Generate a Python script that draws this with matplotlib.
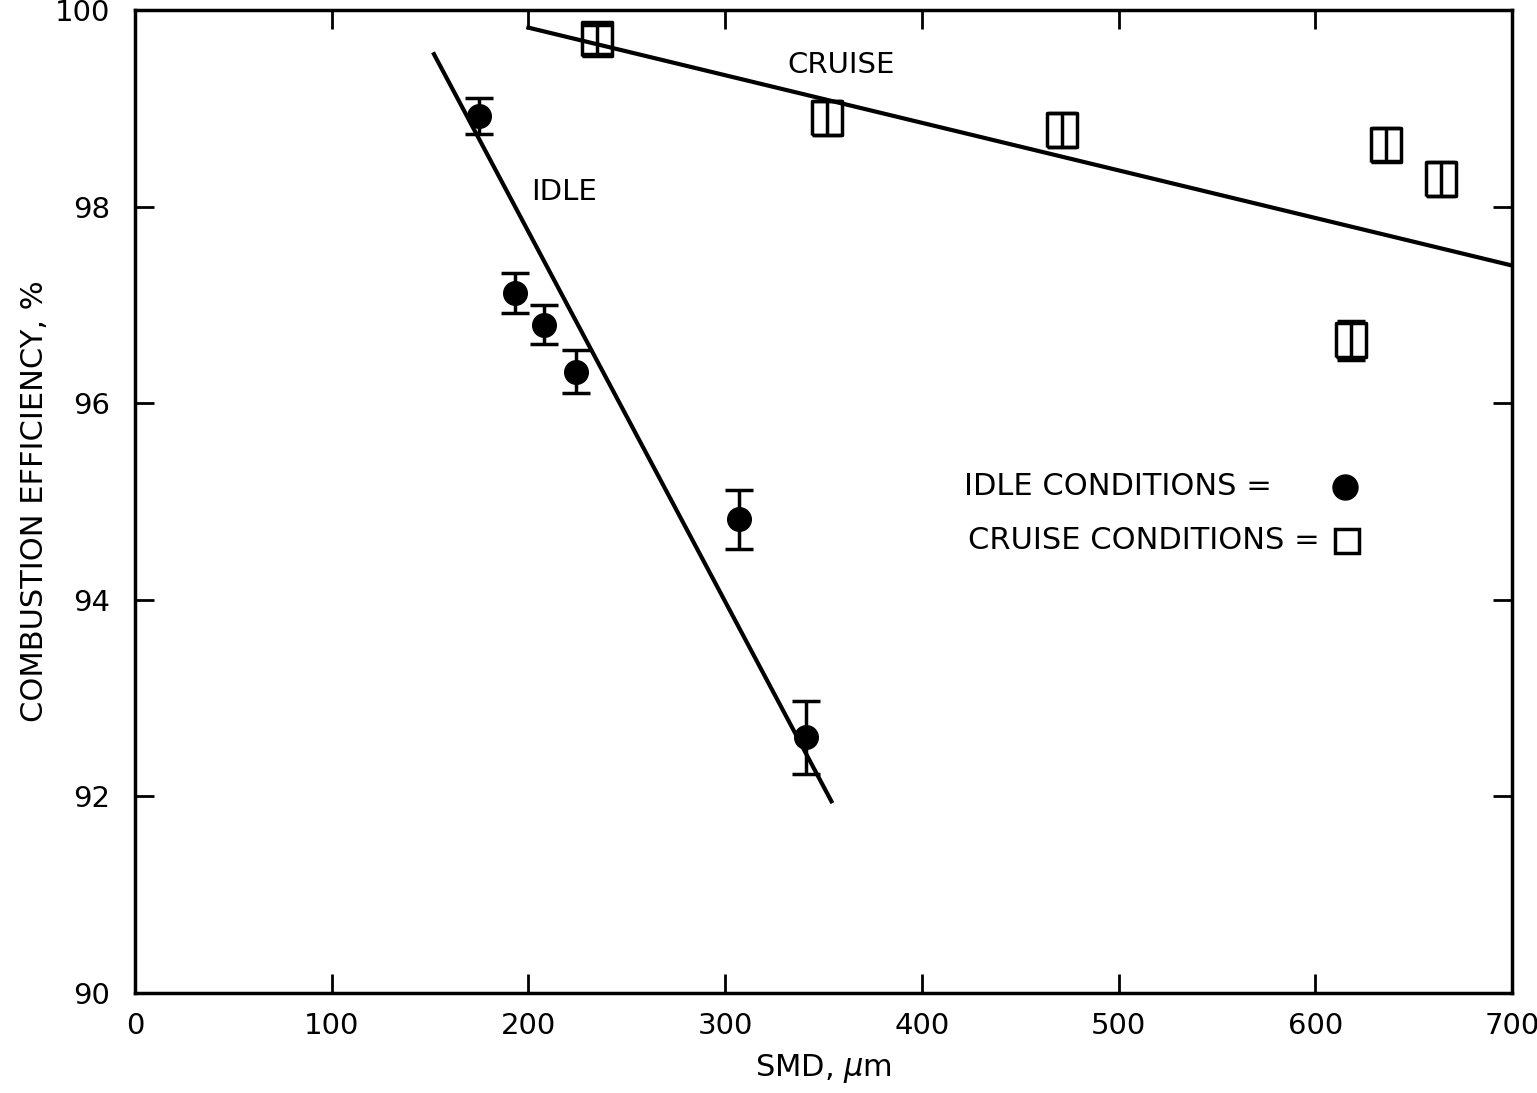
import numpy as np
import matplotlib.pyplot as plt

# datos
idle_smd = [175, 193, 208, 224, 307, 341]
idle_eff = [98.92, 97.12, 96.8, 96.32, 94.82, 92.6]
idle_err = [0.18, 0.2, 0.2, 0.22, 0.3, 0.37]

cruise_smd = [235, 352, 471, 618, 636, 664]
cruise_eff = [99.7, 98.9, 98.78, 96.64, 98.63, 98.28]
cruise_err = [0.15, 0.17, 0.17, 0.2, 0.17, 0.17]

# rectas de ajuste (extremos)
idle_fit_x = [152, 354]
idle_fit_y = [99.55, 91.95]
cruise_fit_x = [200, 700]
cruise_fit_y = [99.82, 97.4]

x_ticks = [0, 100, 200, 300, 400, 500, 600, 700]
y_ticks = [90, 92, 94, 96, 98, 100]

plt.rcParams['font.family'] = ['DejaVu Sans']

# marcador rectangular (mas alto que ancho)
rect = [(-0.85, -1), (0.85, -1), (0.85, 1), (-0.85, 1), (-0.85, -1)]

fig = plt.figure(figsize=(15.37, 10.93), dpi=100)
ax = fig.add_axes([0.0878, 0.0915, 0.896, 0.8994])

ax.plot(idle_fit_x, idle_fit_y, color='black', lw=3)
ax.plot(cruise_fit_x, cruise_fit_y, color='black', lw=3)

ax.errorbar(idle_smd, idle_eff, yerr=idle_err, fmt='o', color='black',
            ms=17, elinewidth=2.5, capsize=10, capthick=2.5)
ax.errorbar(cruise_smd, cruise_eff, yerr=cruise_err, fmt='none', ecolor='black',
            elinewidth=2.5, capsize=10, capthick=2.5, zorder=3)
ax.plot(cruise_smd, cruise_eff, linestyle='none', marker=rect, ms=25,
        mfc='none', mec='black', mew=2.5, zorder=4)

ax.text(218, 98.15, 'IDLE', fontsize=21, ha='center', va='center')
ax.text(359, 99.44, 'CRUISE', fontsize=21, ha='center', va='center')

ax.text(578, 95.15, 'IDLE CONDITIONS =', fontsize=22, ha='right', va='center')
ax.plot([615], [95.15], 'o', color='black', ms=18)
ax.text(602, 94.6, 'CRUISE CONDITIONS =', fontsize=22, ha='right', va='center')
ax.plot([616], [94.6], 's', color='black', mfc='white', mew=2.5, ms=17)

ax.set_xlim(0, 700)
ax.set_ylim(90, 100)
ax.set_xticks(x_ticks)
ax.set_yticks(y_ticks)
ax.tick_params(direction='in', length=14, width=2, labelsize=21,
               top=True, right=True)
ax.tick_params(axis='x', pad=14)
ax.tick_params(axis='y', pad=18)
for s in ax.spines.values():
    s.set_linewidth(2.5)

ax.set_xlabel('SMD, $\\mu$m', fontsize=22, labelpad=8)
ax.set_ylabel('COMBUSTION EFFICIENCY, %', fontsize=22, labelpad=4)

plt.savefig('out.png', dpi=100)
